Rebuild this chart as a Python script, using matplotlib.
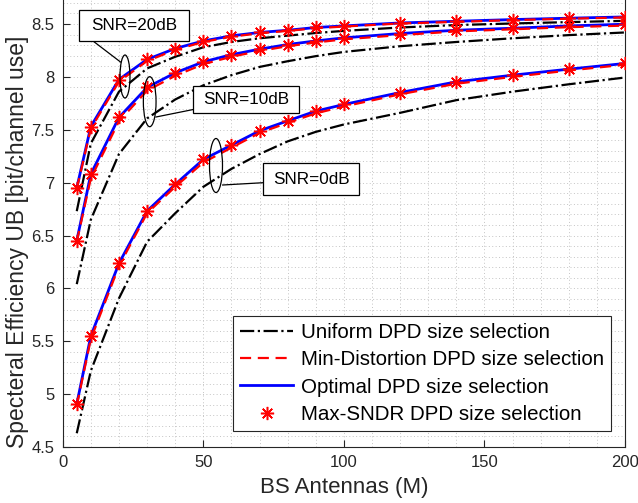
import matplotlib
matplotlib.use("Agg")
import matplotlib.pyplot as plt
from matplotlib.patches import Ellipse, Rectangle
from matplotlib.lines import Line2D

plt.rcParams['font.family'] = ['Liberation Sans', 'DejaVu Sans']

# Number of BS antennas
M = [5, 10, 20, 30, 40, 50, 60, 70, 80, 90, 100, 120, 140, 160, 180, 200]

# Uniform DPD size selection
uniform_20 = [6.73, 7.37, 7.86, 8.08, 8.19, 8.28, 8.33, 8.365, 8.39, 8.415, 8.435, 8.467, 8.49, 8.505, 8.518, 8.53]
uniform_10 = [6.04, 6.65, 7.27, 7.607, 7.786, 7.92, 8.016, 8.094, 8.148, 8.196, 8.236, 8.29, 8.33, 8.365, 8.395, 8.42]
uniform_0 = [4.63, 5.22, 5.905, 6.44, 6.71, 6.96, 7.13, 7.27, 7.39, 7.48, 7.55, 7.66, 7.78, 7.86, 7.93, 7.994]

# Min-Distortion DPD size selection
mindist_20 = [6.94, 7.51, 7.955, 8.15, 8.255, 8.33, 8.38, 8.412, 8.435, 8.46, 8.476, 8.505, 8.52, 8.537, 8.55, 8.562]
mindist_10 = [6.44, 7.04, 7.58, 7.87, 8.01, 8.12, 8.19, 8.245, 8.29, 8.325, 8.355, 8.395, 8.43, 8.45, 8.47, 8.485]
mindist_0 = [4.89, 5.52, 6.21, 6.71, 6.96, 7.19, 7.33, 7.47, 7.565, 7.655, 7.72, 7.835, 7.935, 8.00, 8.06, 8.115]

# Optimal DPD size selection
optimal_20 = [6.95, 7.53, 7.975, 8.165, 8.268, 8.34, 8.388, 8.42, 8.441, 8.467, 8.482, 8.51, 8.526, 8.542, 8.555, 8.567]
optimal_10 = [6.45, 7.08, 7.616, 7.90, 8.038, 8.142, 8.21, 8.262, 8.306, 8.34, 8.369, 8.41, 8.441, 8.46, 8.482, 8.498]
optimal_0 = [4.906, 5.549, 6.236, 6.731, 6.983, 7.219, 7.354, 7.49, 7.584, 7.676, 7.739, 7.852, 7.953, 8.016, 8.073, 8.127]

# Max-SNDR DPD size selection
maxsndr_20 = [6.95, 7.53, 7.975, 8.165, 8.268, 8.34, 8.388, 8.42, 8.441, 8.467, 8.482, 8.51, 8.526, 8.542, 8.555, 8.567]
maxsndr_10 = [6.45, 7.08, 7.616, 7.90, 8.038, 8.142, 8.21, 8.262, 8.306, 8.34, 8.369, 8.41, 8.441, 8.46, 8.482, 8.498]
maxsndr_0 = [4.906, 5.549, 6.236, 6.731, 6.983, 7.219, 7.354, 7.49, 7.584, 7.676, 7.739, 7.852, 7.953, 8.016, 8.073, 8.127]

x_ticks = [0, 50, 100, 150, 200]
y_ticks = [4.5, 5, 5.5, 6, 6.5, 7, 7.5, 8, 8.5]
snr_labels = ['SNR=20dB', 'SNR=10dB', 'SNR=0dB']

W, H = 638, 503
fig = plt.figure(figsize=(W / 100, H / 100), dpi=100)
ax = fig.add_axes([62.7 / W, 56 / H, 562.3 / W, 447 / H])

axis_gray = '#262626'
asterisk = (8, 2, 0)
red_dash = (0, (5, 3))

for u, md, op, ms in [(uniform_20, mindist_20, optimal_20, maxsndr_20),
                      (uniform_10, mindist_10, optimal_10, maxsndr_10),
                      (uniform_0, mindist_0, optimal_0, maxsndr_0)]:
    ax.plot(M, u, color='black', linestyle='-.', linewidth=1.6, zorder=3)
    ax.plot(M, md, color='red', linestyle=red_dash, linewidth=1.6, zorder=4)
    ax.plot(M, op, color='blue', linestyle='-', linewidth=2.0, zorder=3.5)
    ax.plot(M, ms, linestyle='none', marker=asterisk, markersize=9.5,
            markeredgewidth=1.1, color='red', zorder=5)

ax.set_xlim(0, 200)
ax.set_ylim(4.5, 8.727)
ax.set_xticks(x_ticks)
ax.set_yticks(y_ticks)
ax.set_xticklabels([str(v) for v in x_ticks])
ax.set_yticklabels([f'{v:g}' for v in y_ticks])
ax.set_xticks(range(0, 201, 10), minor=True)
ax.set_yticks([4.5 + 0.1 * k for k in range(43)], minor=True)
ax.grid(True, which='both', linestyle=(0, (1, 2.5)), color='#c4c4c4', linewidth=0.7)
ax.set_axisbelow(True)
ax.tick_params(which='major', direction='in', length=5, width=0.8, color=axis_gray,
               labelcolor=axis_gray, labelsize=12, pad=6, top=False, right=False)
ax.tick_params(which='minor', length=0)
for side in ['left', 'bottom', 'right']:
    ax.spines[side].set_color(axis_gray)
    ax.spines[side].set_linewidth(0.8)
ax.spines['top'].set_visible(False)

ax.set_xlabel('BS Antennas (M)', fontsize=16, color=axis_gray, labelpad=5)
ax.set_ylabel('Specteral Efficiency UB [bit/channel use]', fontsize=16.5, color=axis_gray)
ax.yaxis.set_label_coords(-0.06, (447 - 242) / 447)

handles = [
    Line2D([], [], color='black', linestyle='-.', linewidth=1.6),
    Line2D([], [], color='red', linestyle=red_dash, linewidth=1.6),
    Line2D([], [], color='blue', linestyle='-', linewidth=2.0),
    Line2D([], [], linestyle='none', marker=asterisk, markersize=9.5, markeredgewidth=1.1, color='red'),
]
labels = ['Uniform DPD size selection', 'Min-Distortion DPD size selection',
          'Optimal DPD size selection', 'Max-SNDR DPD size selection']
leg = ax.legend(handles, labels, loc='lower right',
                bbox_to_anchor=(611 / W, 1 - 431 / H), bbox_transform=fig.transFigure,
                borderaxespad=0, fontsize=14.8, labelspacing=0.4, handlelength=2.6,
                handletextpad=0.35, borderpad=0.35, fancybox=False, framealpha=1,
                edgecolor=axis_gray)
leg.get_frame().set_linewidth(0.8)


def fx(px):
    return px / W


def fy(py):
    return 1 - py / H


# Cluster ellipses and their callout boxes (figure pixel positions)
ellipses = [(125, 76.5, 10, 43), (149.7, 101.7, 12.7, 50), (216, 165.5, 13, 54)]
boxes = [(78.5, 10, 189, 41), (193.3, 86, 299.3, 113.3), (263.3, 163.3, 359.3, 195)]
leaders = [((91.7, 40), (120.5, 62)), ((156, 117), (193.3, 109.5)), ((222.7, 185), (263.3, 182.7))]

for (cx, cy, ew, eh) in ellipses:
    fig.add_artist(Ellipse((fx(cx), fy(cy)), ew / W, eh / H, transform=fig.transFigure,
                           fill=False, edgecolor='black', linewidth=0.9, zorder=10))
for (a, b) in leaders:
    fig.add_artist(Line2D([fx(a[0]), fx(b[0])], [fy(a[1]), fy(b[1])],
                          transform=fig.transFigure, color='black', linewidth=0.9, zorder=10))
for (x0, y0, x1, y1), lab in zip(boxes, snr_labels):
    fig.add_artist(Rectangle((fx(x0), fy(y1)), (x1 - x0) / W, (y1 - y0) / H,
                             transform=fig.transFigure, facecolor='white',
                             edgecolor='black', linewidth=0.9, zorder=11))
    fig.text(fx((x0 + x1) / 2), fy((y0 + y1) / 2), lab, ha='center', va='center',
             fontsize=12.3, color='black', zorder=12)

fig.savefig('out.png', dpi=100)
